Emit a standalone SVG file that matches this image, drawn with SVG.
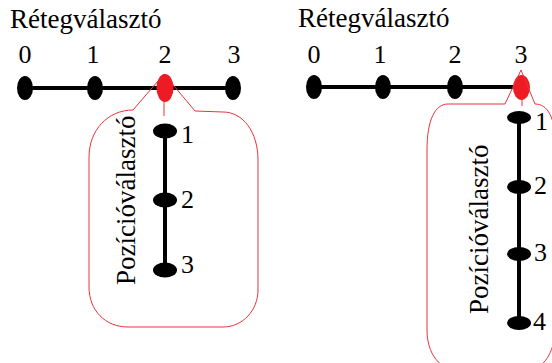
<svg xmlns="http://www.w3.org/2000/svg" width="552" height="363" viewBox="0 0 552 363">
  <style>
    .title { font-size: 27px; }
    .num { font-size: 26px; }
    .mid { text-anchor: middle; }
    .bar { stroke: #000; stroke-width: 4; fill: none; }
    .node { fill: #000; }
    .sel { fill: #ed1c24; }
    .callout { fill: none; stroke: #e8333d; stroke-width: 1; }
  </style>
  <rect width="552" height="363" fill="#fff"/>

  <g font-family="Liberation Serif, Times New Roman, Times, serif" fill="#000">
  <!-- Left: layer 2 selected, three positions -->
  <g id="left-panel">
    <text class="title" x="10" y="28">Rétegválasztó</text>
    <g id="left-connectors">
      <line class="bar" x1="25" y1="88" x2="234" y2="88"/>
      <line class="bar" x1="165" y1="131" x2="165" y2="270"/>
      <path class="callout" d="M164,74 L133,110 C108,110 89,130 89,157 L89,287 C89,310 105,327 128,327 L223,327 C243,327 258,310 258,290 L258,160 C258,132 243,112 223,112 L195,111 L164,74"/>
      <line class="callout" x1="164" y1="100" x2="164" y2="116"/>
    </g>
    <g id="left-layer-0"><ellipse class="node" cx="25" cy="88" rx="8" ry="12"/><text class="num mid" x="25" y="63">0</text></g>
    <g id="left-layer-1"><ellipse class="node" cx="95" cy="88" rx="8" ry="12"/><text class="num mid" x="93" y="63">1</text></g>
    <g id="left-layer-2"><ellipse class="sel" cx="165" cy="88" rx="8.5" ry="14"/><text class="num mid" x="165" y="63">2</text></g>
    <g id="left-layer-3"><ellipse class="node" cx="233" cy="88" rx="8" ry="12"/><text class="num mid" x="234" y="63">3</text></g>
    <text class="title" transform="translate(135,285) rotate(-90)">Pozícióválasztó</text>
    <g id="left-pos-1"><ellipse class="node" cx="165" cy="131" rx="12" ry="7.5"/><text class="num" x="181" y="143">1</text></g>
    <g id="left-pos-2"><ellipse class="node" cx="165" cy="200" rx="12" ry="7.5"/><text class="num" x="181" y="208">2</text></g>
    <g id="left-pos-3"><ellipse class="node" cx="165" cy="270" rx="12" ry="7.5"/><text class="num" x="181" y="273">3</text></g>
  </g>

  <!-- Right: layer 3 selected, four positions -->
  <g id="right-panel">
    <text class="title" x="298" y="27">Rétegválasztó</text>
    <g id="right-connectors">
      <line class="bar" x1="314" y1="87" x2="521" y2="87"/>
      <line class="bar" x1="519" y1="117" x2="519" y2="323"/>
    </g>
    <g id="right-layer-0"><ellipse class="node" cx="314" cy="87" rx="8" ry="12"/><text class="num mid" x="314" y="63">0</text></g>
    <g id="right-layer-1"><ellipse class="node" cx="383" cy="87" rx="8" ry="12"/><text class="num mid" x="380" y="63">1</text></g>
    <g id="right-layer-2"><ellipse class="node" cx="455" cy="87" rx="8" ry="12"/><text class="num mid" x="455" y="63">2</text></g>
    <g id="right-layer-3"><ellipse class="sel" cx="521.5" cy="87.5" rx="8.5" ry="12.5"/><text class="num mid" x="521" y="63">3</text></g>
    <g id="right-callout">
      <path class="callout" d="M521,70 L505,104 L448,104 C435,104 427,120 427,150 L427,330 C427,352 438,372 465,372 L520,372 C546,372 556,350 556,320 L556,145 C555,118 548,104 535,104 L521,70"/>
      <line class="callout" x1="522" y1="98" x2="522" y2="106"/>
    </g>
    <text class="title" transform="translate(488,314) rotate(-90)">Pozícióválasztó</text>
    <g id="right-pos-1"><ellipse class="node" cx="519" cy="117.5" rx="12" ry="6.5"/><text class="num" x="535" y="130">1</text></g>
    <g id="right-pos-2"><ellipse class="node" cx="519" cy="187" rx="12" ry="7"/><text class="num" x="534" y="194">2</text></g>
    <g id="right-pos-3"><ellipse class="node" cx="519" cy="254" rx="12" ry="7"/><text class="num" x="534" y="261">3</text></g>
    <g id="right-pos-4"><ellipse class="node" cx="519" cy="323" rx="12" ry="7"/><text class="num" x="533" y="330">4</text></g>
  </g>
  </g>
</svg>
